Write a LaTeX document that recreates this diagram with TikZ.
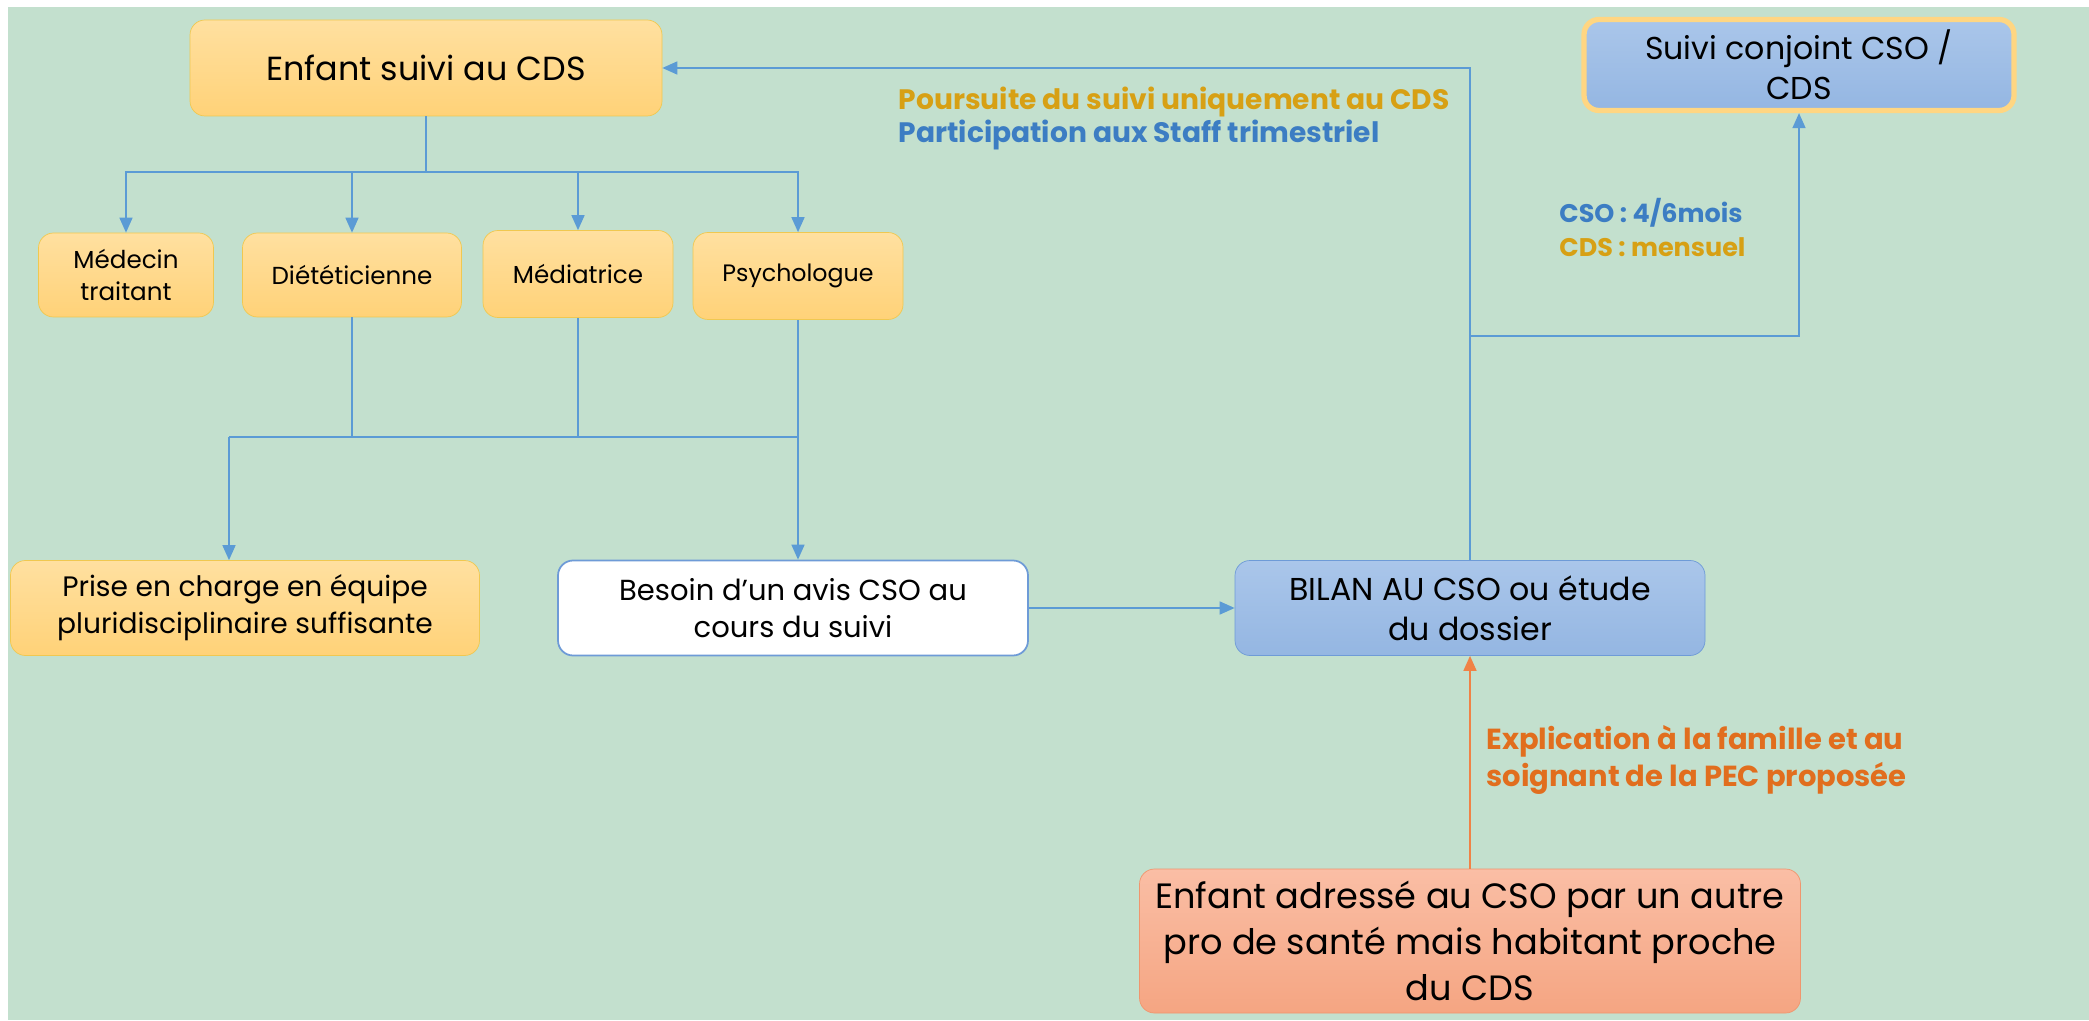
\documentclass[tikz,border=0pt]{standalone}
\usepackage{fontspec}
\setmainfont{Poppins}
\usetikzlibrary{arrows.meta}

\definecolor{bggreen}{RGB}{195,224,206}
\definecolor{orangetop}{RGB}{255,224,160}
\definecolor{orangebot}{RGB}{255,210,120}
\definecolor{orangeline}{RGB}{240,200,80}
\definecolor{bluetop}{RGB}{170,198,234}
\definecolor{bluebot}{RGB}{148,182,226}
\definecolor{blueline}{RGB}{110,155,215}
\definecolor{salmontop}{RGB}{250,190,165}
\definecolor{salmonbot}{RGB}{245,165,130}
\definecolor{salmonline}{RGB}{240,150,110}
\definecolor{linkblue}{RGB}{91,155,213}
\definecolor{linkorange}{RGB}{240,130,70}
\definecolor{txtgold}{RGB}{215,160,20}
\definecolor{txtblue}{RGB}{60,125,195}
\definecolor{txtorange}{RGB}{225,110,30}
\definecolor{frameyellow}{RGB}{255,214,130}

\tikzset{
  box/.style={rounded corners=0.3cm, align=center, inner sep=0pt, text=black},
  orangebox/.style={box, draw=orangeline, top color=orangetop, bottom color=orangebot},
  bluebox/.style={box, draw=blueline, top color=bluetop, bottom color=bluebot},
  link/.style={linkblue, line width=0.9pt},
  arrow/.style={link, -{Triangle[length=0.3cm, width=0.26cm]}},
  note/.style={font=\fontsize{16}{19}\selectfont\bfseries, align=left, inner sep=0pt}
}

\begin{document}
\begin{tikzpicture}
    % Background
    \useasboundingbox (0,0) rectangle (41.78,20.4);
    \fill[white] (0,0) rectangle (41.78,20.4);
    \fill[bggreen] (0.16,0) rectangle (41.78,20.26);

    % Top: child followed at the CDS
    \node[orangebox, minimum width=9.44cm, minimum height=1.92cm,
          font=\fontsize{19}{24}\selectfont] (enfant) at (8.52,19.04) {Enfant suivi au CDS};

    % Professionals of the CDS
    \node[orangebox, minimum width=3.5cm, minimum height=1.68cm,
          font=\fontsize{14}{18}\selectfont] (medecin) at (2.52,14.9) {Médecin\\traitant};
    \node[orangebox, minimum width=4.38cm, minimum height=1.68cm,
          font=\fontsize{14}{18}\selectfont] (diet) at (7.04,14.9) {Diététicienne};
    \node[orangebox, minimum width=3.8cm, minimum height=1.74cm,
          font=\fontsize{14}{18}\selectfont] (mediatrice) at (11.56,14.92) {Médiatrice};
    \node[orangebox, minimum width=4.2cm, minimum height=1.74cm,
          font=\fontsize{13.5}{18}\selectfont] (psy) at (15.96,14.88) {Psychologue};

    % Outcomes
    \node[orangebox, minimum width=9.38cm, minimum height=1.9cm,
          font=\fontsize{16}{21}\selectfont] (prise) at (4.9,8.24) {Prise en charge en équipe\\pluridisciplinaire suffisante};
    \node[box, draw=blueline, line width=1pt, fill=white, minimum width=9.4cm, minimum height=1.9cm,
          font=\fontsize{16.5}{21}\selectfont] (besoin) at (15.86,8.24) {Besoin d’un avis CSO au\\cours du suivi};
    \node[bluebox, minimum width=9.4cm, minimum height=1.9cm,
          font=\fontsize{18}{23}\selectfont] (bilan) at (29.4,8.24) {BILAN AU CSO ou étude\\du dossier};

    % Joint follow-up (top right)
    \node[bluebox, draw=frameyellow, line width=3pt, minimum width=8.6cm, minimum height=1.82cm,
          font=\fontsize{18}{23}\selectfont] (suivi) at (35.98,19.1) {Suivi conjoint CSO /\\CDS};

    % Child referred by another professional
    \node[box, draw=salmonline, top color=salmontop, bottom color=salmonbot,
          minimum width=13.22cm, minimum height=2.88cm,
          font=\fontsize{20}{26}\selectfont] (adresse) at (29.4,1.58) {Enfant adressé au CSO par un autre\\pro de santé mais habitant proche\\du CDS};

    % Tree from the top box to the professionals
    \coordinate (hub1) at (8.52,16.96);
    \draw[link] (enfant) -- (hub1);
    \draw[link] (medecin |- hub1) -- (psy |- hub1);
    \foreach \n in {medecin,diet,mediatrice,psy}
        \draw[arrow] (hub1) -| (\n);

    % Professionals down to the outcomes
    \coordinate (hub2L) at (4.58,11.66);
    \coordinate (hub2R) at (15.96,11.66);
    \foreach \n in {diet,mediatrice,psy}
        \draw[link] (\n.south) -- (\n.south |- hub2L);
    \draw[link] (hub2L) -- (hub2R);
    \draw[arrow] (hub2L) -- (hub2L |- prise.north);
    \draw[arrow] (hub2R) -- (hub2R |- besoin.north);

    % Besoin -> BILAN, then back to the CDS or joint follow-up
    \draw[arrow] (besoin) -- (bilan);
    \draw[arrow] (bilan.north) |- (enfant.east);
    \coordinate (hub3) at (29.4,13.68);
    \draw[arrow] (hub3) -| (suivi.south);

    % Referral arrow
    \draw[arrow, linkorange] (adresse) -- (bilan);

    % Labels on the connectors
    \node[note, anchor=east] (lblcds) at (29.0,18.03)
        {\textcolor{txtgold}{Poursuite du suivi uniquement au CDS}\\\textcolor{txtblue}{Participation aux Staff trimestriel}};
    \node[note, anchor=west, font=\fontsize{14.5}{19.5}\selectfont\bfseries] (lblrythme) at (31.18,15.85)
        {\textcolor{txtblue}{CSO : 4/6mois}\\\textcolor{txtgold}{CDS : mensuel}};
    \node[note, anchor=west, text=txtorange, font=\fontsize{16.5}{21}\selectfont\bfseries] (lblexpl) at (29.72,5.2)
        {Explication à la famille et au\\soignant de la PEC proposée};
\end{tikzpicture}
\end{document}
